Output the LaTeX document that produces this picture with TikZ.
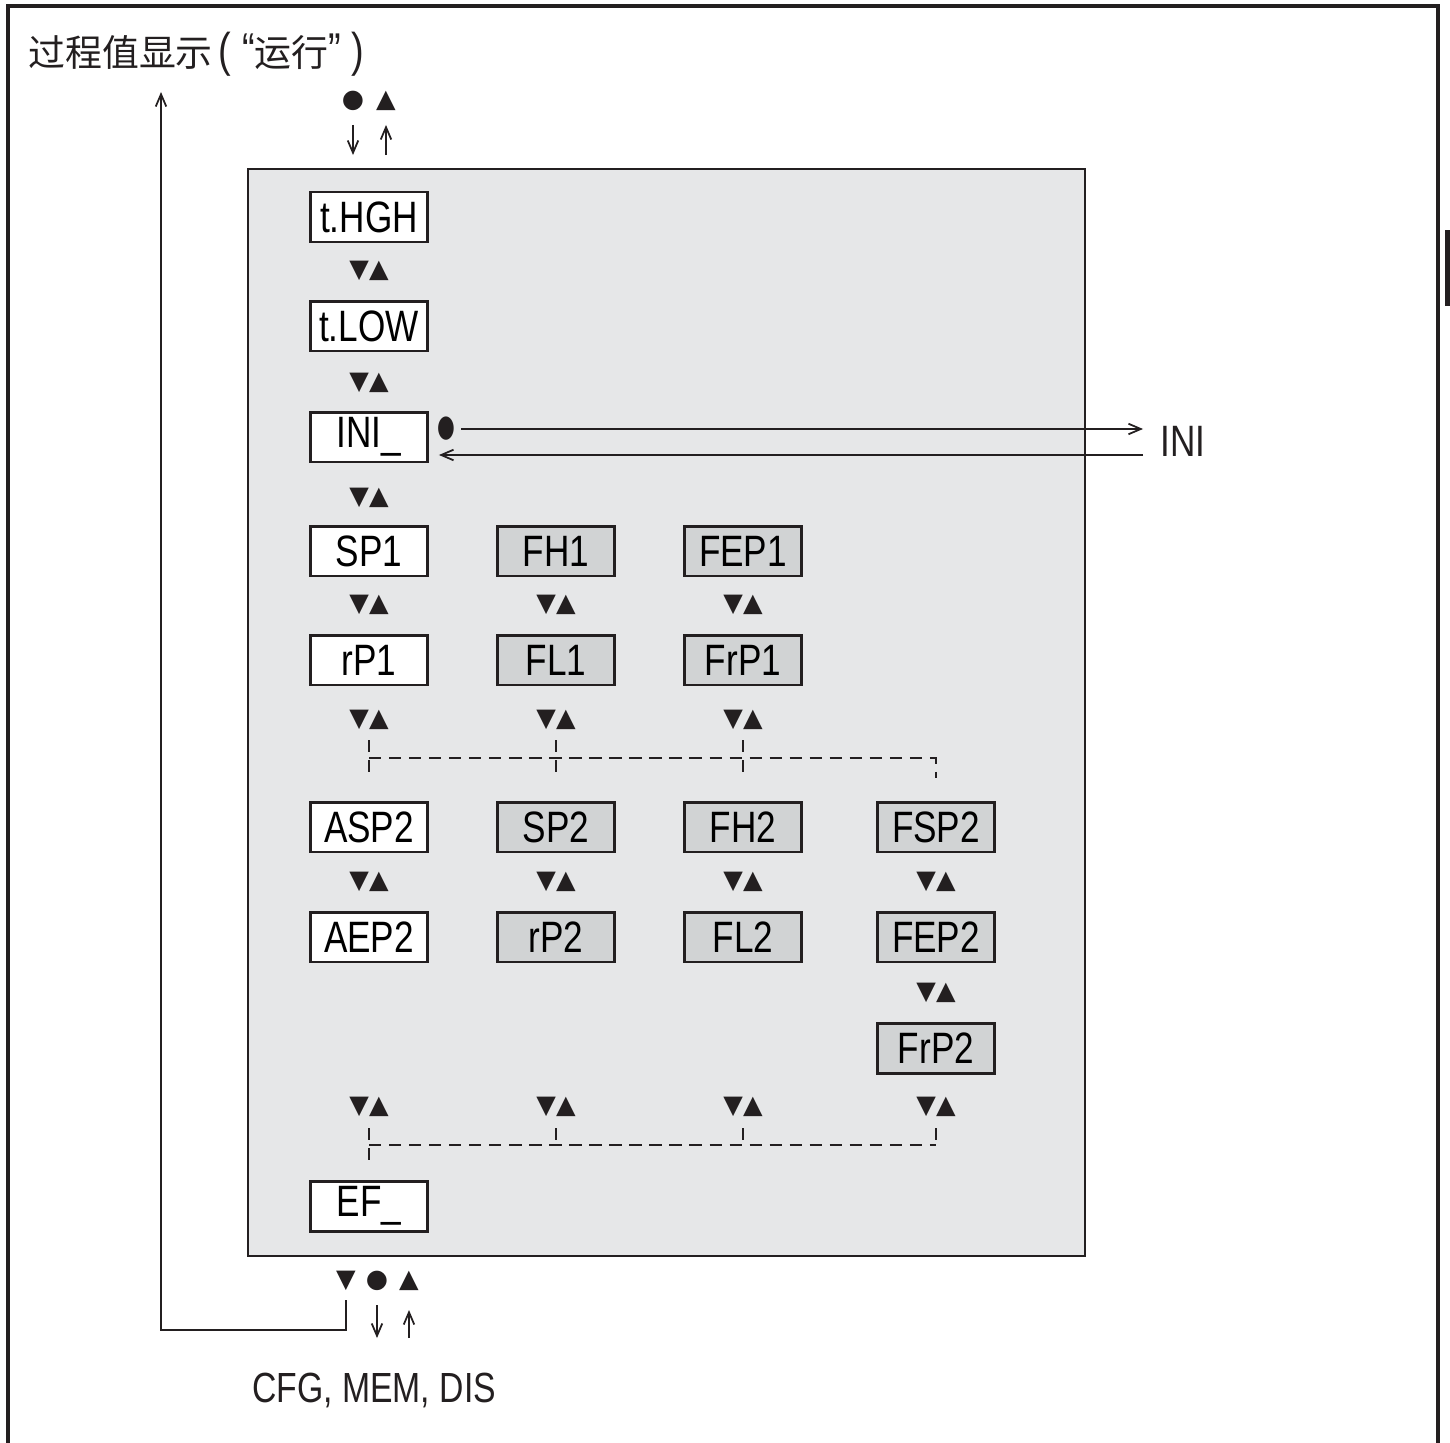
\documentclass[tikz,border=0pt]{standalone}
\usepackage{fontspec}
\setmainfont{Liberation Sans}[FakeStretch=0.8]
\newfontfamily\cjk{Noto Sans CJK SC}
\newfontfamily\sym{DejaVu Sans}
\usepackage{tikz}
\usetikzlibrary{arrows.meta, positioning}
\definecolor{ink}{HTML}{231F20}
\definecolor{panel}{HTML}{E6E7E8}
\definecolor{boxgray}{HTML}{D1D3D4}
\tikzstyle{arrow} = [ink, line width=1pt, -{Straight Barb[length=7pt, width=6pt]}]
\tikzstyle{menubox} = [draw=ink, line width=1.7pt, fill=white, minimum width=2.34cm, minimum height=1cm, inner sep=0pt, font=\fontsize{25}{25}\selectfont]
\tikzstyle{subbox} = [menubox, fill=boxgray]
\tikzstyle{keys} = [inner sep=0pt, text=ink, font=\sym\fontsize{14.5}{14.5}\selectfont]
\tikzstyle{dashline} = [ink, line width=1pt, dash pattern=on 7pt off 4.4pt]

\begin{document}
\begin{tikzpicture}[x=0.02cm, y=-0.02cm]
    \useasboundingbox (0,0) rectangle (1450,1443);
    % Page frame and tab
    \draw[ink, line width=2.2pt] (8,1443) -- (8,6) -- (1438,6) -- (1438,1443);
    \fill[ink] (1445,230) rectangle (1450,306);

    % Parameter panel
    \draw[ink, fill=panel, line width=0.7pt] (248,169) rectangle (1085,1256);

    % Title
    \node[anchor=west, inner sep=0pt, text=ink, font=\cjk\fontsize{21}{21}\selectfont] (title) at (28,54)
        {过程值显示\,{\rmfamily\fontsize{27}{27}\selectfont ( “}运行{\rmfamily\fontsize{27}{27}\selectfont ” )}};

    % Main column
    \foreach \name/\label/\y in {thgh/t.HGH/217, tlow/t.LOW/326, ini/INI\_/437, sp1/SP1/551, rp1/rP1/660, asp2/ASP2/827, aep2/AEP2/937, ef/EF\_/1206}
        \node[menubox] (\name) at (369,\y) {\label};

    % Extended functions
    \foreach \name/\label/\x/\y in {fh1/FH1/556/551, fl1/FL1/556/660, sp2/SP2/556/827, rp2/rP2/556/937,
        fep1/FEP1/743/551, frp1/FrP1/743/660, fh2/FH2/743/827, fl2/FL2/743/937,
        fsp2/FSP2/936/827, fep2/FEP2/936/937, frp2/FrP2/936/1048}
        \node[subbox] (\name) at (\x,\y) {\label};

    % Button symbols between parameters
    \foreach \x/\y in {369/271, 369/383, 369/498, 369/605, 556/605, 743/605,
        369/720, 556/720, 743/720, 369/882, 556/882, 743/882, 936/882, 936/993,
        369/1107, 556/1107, 743/1107, 936/1107}
        \node[keys] (k-\x-\y) at (\x,\y) {▼▲};

    % Branch after rP1
    \foreach \x in {369,556,743} {
        \coordinate (ua\x) at (\x,740);
        \coordinate (ub\x) at (\x,778);
        \draw[dashline] (ua\x) -- (ub\x);
    }
    \coordinate (uh1) at (369,758);
    \coordinate (uh2) at (936,758);
    \coordinate (uh3) at (936,778);
    \draw[dashline] (uh1) -- (uh2) -- (uh3);

    % Merge before EF_
    \foreach \x in {369,556,743,936}
        \coordinate (la\x) at (\x,1128);
    \coordinate (lj) at (369,1145);
    \coordinate (le) at (369,1165);
    \draw[dashline] (la369) -- (le);
    \foreach \x in {556,743,936}
        \draw[dashline] (la\x) -- (la\x |- lj);
    \draw[dashline] (lj) -- (la936 |- lj);

    % Entry from run mode
    \node[keys] (topok) at (353,101) {●};
    \node[keys] (topup) at (386,101) {▲};
    \coordinate (ta1) at (353,125); \coordinate (ta2) at (353,155);
    \coordinate (tb1) at (386,155); \coordinate (tb2) at (386,125);
    \draw[arrow] (ta1) -- (ta2);
    \draw[arrow] (tb1) -- (tb2);

    % INI submenu
    \node[keys] (iniok) at (446,429) {\scalebox{0.8}[1.2]{●}};
    \node[anchor=west, inner sep=0pt, text=ink, font=\fontsize{25}{25}\selectfont] (inilabel) at (1160,441) {INI};
    \coordinate (iniout) at (1143,429);
    \coordinate (iniin) at (1143,455);
    \draw[arrow] (iniok.east) ++(0.12cm,0) -- (iniout);
    \draw[arrow] (iniin) -- ([xshift=0.2cm]ini.east |- iniin);

    % Exit at the bottom
    \node[keys] (botdown) at (346,1281) {▼};
    \node[keys] (botok) at (377,1281) {●};
    \node[keys] (botup) at (409,1281) {▲};
    \coordinate (ret1) at (346,1300);
    \coordinate (ret2) at (346,1330);
    \coordinate (ret3) at (161,1330);
    \coordinate (ret4) at (161,92);
    \draw[arrow] (ret1) -- (ret2) -- (ret3) -- (ret4);
    \coordinate (ba1) at (377,1305); \coordinate (ba2) at (377,1338);
    \coordinate (bb1) at (409,1338); \coordinate (bb2) at (409,1310);
    \draw[arrow] (ba1) -- (ba2);
    \draw[arrow] (bb1) -- (bb2);
    \node[anchor=west, inner sep=0pt, text=ink, font=\fontsize{24}{24}\selectfont] (more) at (252,1390) {CFG, MEM, DIS};
\end{tikzpicture}
\end{document}
